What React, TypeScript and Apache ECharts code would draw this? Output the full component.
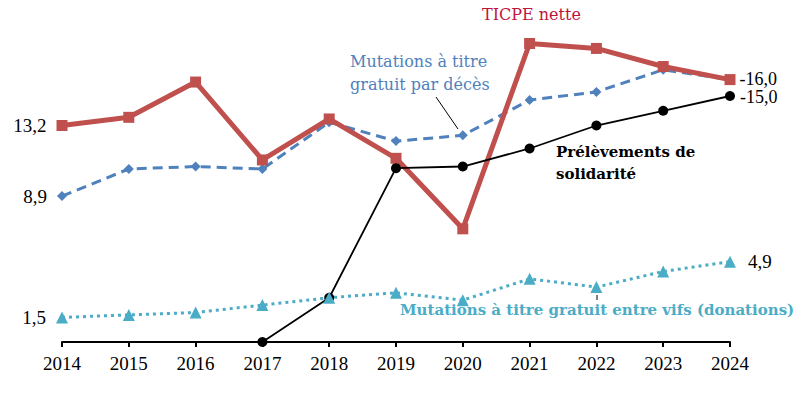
import React, { useEffect, useRef } from "react";
import * as echarts from "echarts";

const years = ["2014", "2015", "2016", "2017", "2018", "2019", "2020", "2021", "2022", "2023", "2024"];
const ticpe = [13.2, 13.7, 15.85, 11.1, 13.6, 11.2, 6.9, 18.2, 17.9, 16.8, 16.0];
const deces = [8.9, 10.55, 10.7, 10.55, 13.4, 12.25, 12.6, 14.75, 15.25, 16.6, 16.0];
const solidarite = [null, null, null, 0, 2.7, 10.6, 10.7, 11.8, 13.2, 14.1, 15.0];
const donations = [1.5, 1.65, 1.8, 2.25, 2.7, 3.0, 2.55, 3.85, 3.35, 4.3, 4.9];

const NUMFONT = "'Liberation Serif', 'Times New Roman', serif";
const TXTFONT = "'DejaVu Serif', serif";
const fmt = (v: number) => v.toFixed(1).replace(".", ",");

function withEndLabels(
  arr: (number | null)[],
  first: boolean,
  last: string | null,
  firstDist = 10,
  lastDist = 4,
  lastExtra: any = {}
) {
  return arr.map((v, i) => {
    if (v === null) return null;
    if (i === 0 && first) {
      return { value: v, label: { show: true, position: "left", distance: firstDist, formatter: fmt(v) } };
    }
    if (i === arr.length - 1 && last !== null) {
      return { value: v, label: { show: true, position: "right", distance: lastDist, formatter: last, ...lastExtra } };
    }
    return v;
  });
}

export default function App() {
  const ref = useRef<HTMLDivElement>(null);
  useEffect(() => {
    if (!ref.current) return;
    const chart = echarts.init(ref.current, null, { renderer: "svg" });
    const labelStyle = { color: "#000", fontFamily: NUMFONT, fontSize: 19, lineHeight: 15 };
    chart.setOption({
      animation: false,
      backgroundColor: "#fff",
      grid: { left: 62, right: 76, top: 14, bottom: 55, containLabel: false },
      xAxis: {
        type: "category",
        data: years,
        boundaryGap: false,
        axisLine: { show: true, lineStyle: { color: "#000", width: 2 } },
        axisTick: { show: true, alignWithLabel: true, length: 5, lineStyle: { color: "#000", width: 2 } },
        axisLabel: { color: "#000", fontFamily: NUMFONT, fontSize: 19, margin: 12 },
        splitLine: { show: false },
      },
      yAxis: {
        type: "value",
        min: 0,
        max: 20,
        show: false,
        splitLine: { show: false },
      },
      series: [
        {
          name: "Mutations à titre gratuit par décès",
          type: "line",
          data: withEndLabels(deces, true, null),
          symbol: "diamond",
          symbolSize: 10,
          itemStyle: { color: "#4F81BD" },
          lineStyle: { color: "#4F81BD", width: 3, type: [10, 6] },
          label: labelStyle,
          z: 2,
        },
        {
          name: "TICPE nette",
          type: "line",
          data: withEndLabels(ticpe, true, "-16,0", 10, 4, { fontSize: 18, offset: [0, -1] }),
          symbol: "rect",
          symbolSize: 11,
          itemStyle: { color: "#C0504D" },
          lineStyle: { color: "#C0504D", width: 5 },
          label: labelStyle,
          z: 3,
        },
        {
          name: "Prélèvements de solidarité",
          type: "line",
          data: withEndLabels(solidarite, false, "-15,0", 10, 5, { fontSize: 18, offset: [0, 1] }),
          symbol: "circle",
          symbolSize: 10,
          connectNulls: false,
          itemStyle: { color: "#000" },
          lineStyle: { color: "#000", width: 1.8 },
          label: labelStyle,
          z: 4,
        },
        {
          name: "Mutations à titre gratuit entre vifs (donations)",
          type: "line",
          data: withEndLabels(donations, true, "4,9", 10, 12),
          symbol: "triangle",
          symbolSize: 12,
          itemStyle: { color: "#4BACC6" },
          lineStyle: { color: "#4BACC6", width: 3, type: [3, 4] },
          label: labelStyle,
          z: 5,
        },
      ],
      graphic: [
        {
          type: "text",
          left: 482,
          top: 6,
          style: { text: "TICPE nette", fill: "#C0143C", font: `16px ${TXTFONT}` },
        },
        {
          type: "text",
          left: 350,
          top: 50,
          style: {
            text: "Mutations à titre\ngratuit par décès",
            fill: "#4F81BD",
            font: `16px ${TXTFONT}`,
            lineHeight: 23,
          },
        },
        {
          type: "line",
          shape: { x1: 436, y1: 97, x2: 458, y2: 129 },
          style: { stroke: "#000", lineWidth: 1 },
        },
        {
          type: "text",
          left: 556,
          top: 141,
          style: {
            text: "Prélèvements de\nsolidarité",
            fill: "#000",
            font: `bold 15px ${TXTFONT}`,
            lineHeight: 22,
          },
        },
        {
          type: "text",
          left: 400,
          top: 302,
          style: {
            text: "Mutations à titre gratuit entre vifs (donations)",
            fill: "#4BACC6",
            font: `bold 15px ${TXTFONT}`,
          },
        },
        {
          type: "line",
          shape: { x1: 597, y1: 295, x2: 597, y2: 300 },
          style: { stroke: "#000", lineWidth: 1 },
        },
      ],
    });
    return () => chart.dispose();
  }, []);
  return <div ref={ref} style={{ width: 806, height: 397, marginLeft: -8, marginTop: -8 }} />;
}
